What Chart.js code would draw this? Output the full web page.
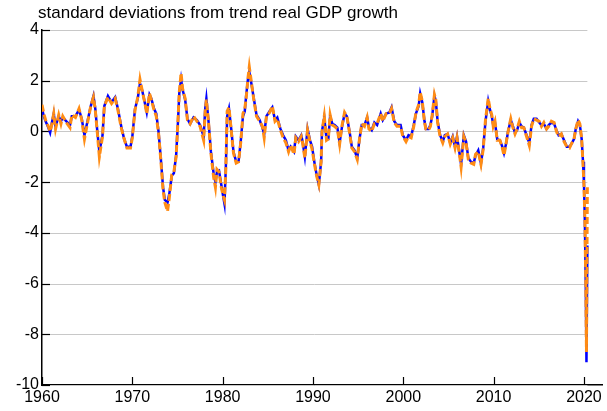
<!DOCTYPE html>
<html>
<head>
<meta charset="utf-8">
<script src="https://cdn.jsdelivr.net/npm/chart.js@4.4.1/dist/chart.umd.min.js"></script>
<style>
  html, body { margin: 0; padding: 0; background: #fff; }
  #wrap { width: 607px; height: 411px; }
</style>
</head>
<body>
<div id="wrap"><canvas id="chartGdp" width="607" height="411"></canvas></div>
<script>
// values (years as decimal dates)
var years = [
  1960.0, 1960.2, 1960.4, 1960.7, 1960.9, 1961.1, 1961.3, 1961.5, 1961.85, 1962.1,
  1962.3, 1962.7, 1963.1, 1963.3, 1963.7, 1964.1, 1964.4, 1964.7, 1965.1, 1965.4,
  1965.7, 1965.9, 1966.1, 1966.35, 1966.7, 1966.9, 1967.3, 1967.7, 1968.1, 1968.4,
  1968.8, 1969.1, 1969.4, 1969.8, 1970.0, 1970.3, 1970.6, 1970.85, 1971.1, 1971.4,
  1971.6, 1971.9, 1972.1, 1972.4, 1972.65, 1972.9, 1973.15, 1973.4, 1973.6, 1973.9,
  1974.1, 1974.37, 1974.6, 1974.85, 1975.05, 1975.2, 1975.4, 1975.56, 1975.85, 1976.1,
  1976.4, 1976.78, 1977.15, 1977.5, 1977.9, 1978.07, 1978.2, 1978.45, 1978.7, 1979.0,
  1979.2, 1979.37, 1979.6, 1979.85, 1980.03, 1980.2, 1980.35, 1980.5, 1980.7, 1980.95,
  1981.2, 1981.5, 1981.76, 1982.0, 1982.25, 1982.45, 1982.6, 1982.8, 1982.95, 1983.2,
  1983.45, 1983.75, 1984.1, 1984.4, 1984.6, 1984.85, 1985.2, 1985.5, 1985.8, 1986.05,
  1986.4, 1986.7, 1987.0, 1987.3, 1987.53, 1987.9, 1988.1, 1988.4, 1988.7, 1988.85,
  1989.1, 1989.4, 1989.67, 1989.9, 1990.15, 1990.4, 1990.65, 1990.9, 1991.0, 1991.25,
  1991.5, 1991.7, 1991.9, 1992.15, 1992.4, 1992.7, 1992.95, 1993.2, 1993.5, 1993.75,
  1994.05, 1994.3, 1994.6, 1994.9, 1995.15, 1995.4, 1995.7, 1996.0, 1996.2, 1996.5,
  1996.8, 1997.1, 1997.5, 1997.73, 1998.1, 1998.46, 1998.7, 1999.0, 1999.3, 1999.7,
  1999.95, 2000.3, 2000.58, 2000.87, 2001.16, 2001.4, 2001.7, 2001.87, 2002.1, 2002.35,
  2002.5, 2002.8, 2003.0, 2003.2, 2003.45, 2003.6, 2003.8, 2004.08, 2004.37, 2004.6,
  2004.9, 2005.2, 2005.47, 2005.73, 2005.95, 2006.2, 2006.4, 2006.7, 2006.95, 2007.2,
  2007.5, 2007.8, 2008.0, 2008.3, 2008.6, 2008.85, 2009.1, 2009.4, 2009.6, 2009.8,
  2009.96, 2010.15, 2010.4, 2010.7, 2010.96, 2011.15, 2011.37, 2011.6, 2011.9, 2012.1,
  2012.37, 2012.6, 2012.85, 2013.1, 2013.35, 2013.65, 2013.95, 2014.2, 2014.45, 2014.75,
  2015.05, 2015.3, 2015.56, 2015.86, 2016.1, 2016.4, 2016.7, 2016.96, 2017.2, 2017.5,
  2017.8, 2018.1, 2018.4, 2018.6, 2018.9, 2019.1, 2019.35, 2019.55, 2019.75, 2019.9,
  2020.0, 2020.1, 2020.2, 2020.28, 2020.38
];

var blueVals = [
  0.9, 0.6, 0.4, 0.15, -0.05, 0.35, 0.7, 0.2, 0.6, 0.4,
  0.55, 0.4, 0.25, 0.6, 0.6, 0.85, 0.5, -0.15, 0.5, 1.0,
  1.4, 0.9, 0.1, -0.8, -0.15, 1.0, 1.4, 1.15, 1.35, 0.9,
  0.15, -0.3, -0.6, -0.6, -0.2, 0.9, 1.3, 1.9, 1.6, 1.1,
  0.75, 1.45, 1.3, 0.9, 0.7, 0.0, -1.05, -2.2, -2.7, -2.8,
  -2.45, -1.75, -1.65, -0.95, 0.35, 1.5, 2.05, 1.65, 1.25, 0.5,
  0.3, 0.55, 0.45, 0.25, -0.2, 0.9, 1.3, 0.35, -0.8, -1.65,
  -2.0, -1.6, -1.55, -2.1, -2.5, -2.85, -1.45, 0.6, 0.9, 0.1,
  -0.8, -1.2, -1.2, -0.4, 0.6, 0.8, 1.4, 2.05, 2.35, 1.85,
  1.3, 0.65, 0.45, 0.15, -0.1, 0.6, 0.8, 0.95, 0.45, 0.55,
  0.1, -0.15, -0.35, -0.75, -0.6, -0.8, -0.2, -0.35, -0.15, -0.4,
  -1.0, 0.1, -0.35, -0.6, -1.2, -1.7, -2.1, -1.2, 0.0, 0.55,
  -0.3, -0.3, 0.6, 0.3, 0.25, 0.15, -0.45, 0.15, 0.7, 0.6,
  0.0, -0.6, -0.75, -1.05, -0.3, 0.25, 0.25, 0.55, 0.15, 0.05,
  0.35, 0.25, 0.7, 0.45, 0.7, 0.75, 0.95, 0.4, 0.25, 0.25,
  -0.15, -0.35, -0.15, -0.2, 0.25, 0.7, 1.0, 1.5, 1.15, 0.4,
  0.1, 0.1, 0.25, 0.6, 1.4, 1.2, 0.4, -0.15, -0.4, -0.15,
  -0.1, -0.45, -0.2, -0.6, -0.2, -0.8, -1.3, -0.15, -0.4, -1.05,
  -1.2, -1.25, -0.95, -0.75, -1.25, -0.65, 0.4, 1.2, 0.85, 0.6,
  0.25, 0.35, -0.3, -0.35, -0.6, -0.85, -0.5, 0.0, 0.45, 0.25,
  -0.05, 0.05, 0.35, 0.2, 0.15, -0.15, -0.45, 0.25, 0.5, 0.5,
  0.35, 0.25, 0.3, 0.1, 0.25, 0.35, 0.3, 0.05, -0.15, -0.1,
  -0.35, -0.6, -0.6, -0.5, -0.3, 0.1, 0.4, 0.25, -0.3, -1.2,
  -2.0, -3.5, -6.0, -9.1, -4.5
];

var orangeVals = [
  1.05, 0.7, 0.45, 0.2, 0.0, 0.3, 0.7, 0.1, 0.65, 0.3,
  0.6, 0.35, 0.15, 0.65, 0.55, 0.9, 0.45, -0.3, 0.45, 1.0,
  1.35, 0.85, 0.05, -1.0, -0.2, 1.0, 1.35, 1.1, 1.3, 0.85,
  0.1, -0.3, -0.65, -0.65, -0.25, 0.85, 1.35, 2.05, 1.6, 1.1,
  0.7, 1.5, 1.25, 0.85, 0.6, -0.05, -1.1, -2.3, -2.8, -3.15,
  -2.6, -1.7, -1.6, -1.0, 0.4, 1.55, 2.3, 1.7, 1.3, 0.45,
  0.3, 0.6, 0.4, 0.2, -0.35, 0.8, 1.25, 0.3, -0.85, -1.8,
  -2.2, -1.5, -1.6, -2.2, -2.5, -2.7, -1.5, 0.8, 0.95, 0.05,
  -0.85, -1.25, -1.2, -0.45, 0.7, 0.9, 1.3, 2.1, 2.55, 1.9,
  1.25, 0.6, 0.4, 0.2, -0.25, 0.6, 0.75, 1.0, 0.4, 0.5,
  0.05, -0.25, -0.45, -0.8, -0.55, -0.9, -0.25, -0.4, -0.2, -0.45,
  -1.05, 0.05, -0.4, -0.7, -1.25, -1.75, -2.1, -1.2, 0.0, 0.6,
  -0.35, -0.3, 0.65, 0.25, 0.2, 0.1, -0.5, 0.2, 0.75, 0.6,
  -0.05, -0.65, -0.8, -1.1, -0.3, 0.3, 0.2, 0.55, 0.1, 0.0,
  0.3, 0.3, 0.7, 0.4, 0.7, 0.7, 0.9, 0.35, 0.2, 0.2,
  -0.2, -0.4, -0.2, -0.25, 0.2, 0.75, 1.05, 1.55, 1.2, 0.35,
  0.1, 0.05, 0.2, 0.65, 1.45, 1.25, 0.35, -0.2, -0.45, -0.2,
  -0.1, -0.5, -0.25, -0.65, -0.25, -0.85, -1.4, -0.2, -0.45, -1.1,
  -1.25, -1.3, -0.9, -0.8, -1.3, -0.7, 0.45, 1.3, 0.9, 0.65,
  0.2, 0.4, -0.35, -0.35, -0.65, -0.95, -0.5, 0.0, 0.5, 0.2,
  -0.1, 0.1, 0.4, 0.15, 0.15, -0.2, -0.55, 0.2, 0.5, 0.45,
  0.4, 0.2, 0.35, 0.1, 0.2, 0.4, 0.35, 0.0, -0.2, -0.1,
  -0.4, -0.6, -0.65, -0.5, -0.3, 0.1, 0.45, 0.3, -0.3, -1.3,
  -2.1, -3.4, -5.8, -8.7, -2.2
];

// axis ticks
var yTicks = [4, 2, 0, -2, -4, -6, -8, -10];
var xTicks = [1960, 1970, 1980, 1990, 2000, 2010, 2020];

var titleText = 'standard deviations from trend real GDP growth';
var fontFamily = '"Liberation Sans", Arial, sans-serif';

function toPoints(xs, ys) {
    var pts = [];
    for (var i = 0; i < xs.length; i++) {
        pts.push({x: xs[i], y: ys[i]});
    }
    return pts;
}

// grid lines stop at the last data point, ticks point inwards
var framePlugin = {
    id: 'frame',
    beforeDatasetsDraw: function(chart) {
        var ctx = chart.ctx;
        var area = chart.chartArea;
        var xs = chart.scales.x;
        var ys = chart.scales.y;
        var gridEnd = xs.getPixelForValue(years[years.length - 1]);
        ctx.save();
        ctx.lineWidth = 1;
        ctx.strokeStyle = '#c8c8c8';
        yTicks.forEach(function(v) {
            var py = Math.round(ys.getPixelForValue(v)) + 0.5;
            ctx.beginPath();
            ctx.moveTo(area.left, py);
            ctx.lineTo(gridEnd, py);
            ctx.stroke();
        });
        ctx.strokeStyle = '#000';
        ctx.lineWidth = 1.2;
        yTicks.forEach(function(v) {
            var py = Math.round(ys.getPixelForValue(v)) + 0.5;
            ctx.beginPath();
            ctx.moveTo(area.left, py);
            ctx.lineTo(area.left + 8, py);
            ctx.stroke();
        });
        xTicks.forEach(function(v) {
            var px = Math.round(xs.getPixelForValue(v)) + 0.5;
            ctx.beginPath();
            ctx.moveTo(px, area.bottom);
            ctx.lineTo(px, area.bottom - 8);
            ctx.stroke();
        });
        ctx.restore();
    },
    afterDraw: function(chart) {
        var ctx = chart.ctx;
        ctx.save();
        ctx.fillStyle = '#000';
        ctx.font = '17px ' + fontFamily;
        ctx.textBaseline = 'middle';
        ctx.textAlign = 'left';
        ctx.fillText(titleText, chart.chartArea.left - 4, 13);
        ctx.restore();
    }
};

var chartGdp = new Chart(document.getElementById('chartGdp'), {
    type: 'line',
    data: {
        datasets: [{
            label: 'orange',
            data: toPoints(years, orangeVals),
            borderColor: '#ff8c14',
            borderWidth: 3,
            borderDash: [7, 3],
            pointRadius: 0,
            tension: 0,
            fill: false,
            order: 0
        }, {
            label: 'blue',
            data: toPoints(years, blueVals),
            borderColor: '#0000ff',
            borderWidth: 2.5,
            pointRadius: 0,
            tension: 0,
            fill: false,
            order: 1
        }]
    },
    options: {
        responsive: false,
        animation: false,
        devicePixelRatio: 1,
        layout: {
            padding: {top: 30, right: 5, left: 0, bottom: 0}
        },
        plugins: {
            legend: {display: false},
            title: {display: false},
            tooltip: {enabled: false}
        },
        scales: {
            x: {
                type: 'linear',
                min: 1960,
                max: 2022,
                grid: {display: false, drawTicks: false},
                border: {display: true, color: '#000', width: 1.5},
                afterFit: function(s) { s.height = 26; },
                afterBuildTicks: function(s) {
                    s.ticks = xTicks.map(function(v) { return {value: v}; });
                },
                ticks: {
                    padding: 3,
                    maxRotation: 0,
                    autoSkip: false,
                    color: '#000',
                    font: {family: fontFamily, size: 16},
                    callback: function(v) { return String(v); }
                }
            },
            y: {
                min: -10,
                max: 4,
                grid: {display: false, drawTicks: false},
                border: {display: true, color: '#000', width: 1.5},
                afterFit: function(s) { s.width = 42; },
                afterBuildTicks: function(s) {
                    s.ticks = yTicks.map(function(v) { return {value: v}; });
                },
                ticks: {
                    padding: 3,
                    color: '#000',
                    font: {family: fontFamily, size: 16}
                }
            }
        }
    },
    plugins: [framePlugin]
});
</script>
</body>
</html>
